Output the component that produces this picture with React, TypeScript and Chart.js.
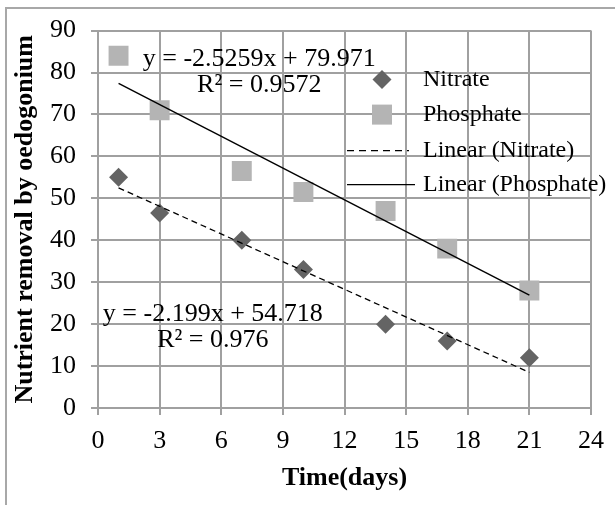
import React, { useEffect, useRef } from "react";
import { Chart, registerables } from "chart.js";

Chart.register(...registerables);

const days = [1, 3, 7, 10, 14, 17, 21];
const nitrate = [55, 46.5, 40, 33, 20, 16, 12];
const phosphate = [84, 71, 56.5, 51.5, 47, 38, 28];

const trendX = [1, 21];
const nitrateTrend = [52.5, 8.5];
const phosphateTrend = [77.4, 26.9];

const xTicksMax = 24;
const xStep = 3;
const yTicksMax = 90;
const yStep = 10;

const legendLabels = ["Nitrate", "Phosphate", "Linear (Nitrate)", "Linear (Phosphate)"];

// equation labels (centered) anchored in data units [x, y]
const eqLabels = [
  { text: "y = -2.5259x + 79.971", x: 7.85, y: 83.2 },
  { text: "R² = 0.9572", x: 7.85, y: 76.9 },
  { text: "y = -2.199x + 54.718", x: 5.59, y: 22.3 },
  { text: "R² = 0.976", x: 5.59, y: 16.2 },
];

const FONT = "'Liberation Serif', 'Times New Roman', serif";
const NITRATE_COLOR = "#646464";
const PHOSPHATE_COLOR = "#b4b4b4";
const GRID = "#a0a0a0";

const decorPlugin = {
  id: "decor",
  beforeDraw(chart: any) {
    const ctx = chart.ctx;
    ctx.save();
    ctx.strokeStyle = "#a8a8a8";
    ctx.lineWidth = 2;
    ctx.beginPath();
    ctx.moveTo(6, chart.height);
    ctx.lineTo(6, 8);
    ctx.lineTo(chart.width, 8);
    ctx.stroke();
    ctx.restore();
  },
  afterDraw(chart: any) {
    const ctx = chart.ctx;
    const xs = chart.scales.x;
    const ys = chart.scales.y;
    ctx.save();
    ctx.fillStyle = "#000";
    ctx.font = `26px ${FONT}`;
    ctx.textBaseline = "middle";
    ctx.textAlign = "center";
    for (const l of eqLabels) {
      ctx.fillText(l.text, xs.getPixelForValue(l.x), ys.getPixelForValue(l.y));
    }
    // legend
    const a = chart.chartArea;
    const mx = a.left + 284;
    const tx = a.left + 325;
    const rows = [a.top + 49, a.top + 84, a.top + 120, a.top + 154];
    ctx.fillStyle = NITRATE_COLOR;
    ctx.beginPath();
    ctx.moveTo(mx - 9.5, rows[0]);
    ctx.lineTo(mx, rows[0] - 9.5);
    ctx.lineTo(mx + 9.5, rows[0]);
    ctx.lineTo(mx, rows[0] + 9.5);
    ctx.closePath();
    ctx.fill();
    ctx.fillStyle = PHOSPHATE_COLOR;
    ctx.fillRect(mx - 10, rows[1] - 10, 20, 20);
    ctx.strokeStyle = "#000";
    ctx.lineWidth = 1.3;
    ctx.setLineDash([7, 5]);
    ctx.beginPath();
    ctx.moveTo(a.left + 249, rows[2]);
    ctx.lineTo(a.left + 311, rows[2]);
    ctx.stroke();
    ctx.setLineDash([]);
    ctx.beginPath();
    ctx.moveTo(a.left + 249, rows[3]);
    ctx.lineTo(a.left + 317, rows[3]);
    ctx.stroke();
    ctx.fillStyle = "#000";
    ctx.textAlign = "left";
    ctx.font = `24px ${FONT}`;
    legendLabels.forEach((t, i) => ctx.fillText(t, tx, rows[i]));
    ctx.restore();
  },
};

export default function App() {
  const ref = useRef<HTMLCanvasElement | null>(null);
  useEffect(() => {
    if (!ref.current) return;
    const chart = new Chart(ref.current, {
      type: "scatter",
      data: {
        datasets: [
          {
            label: "Linear (Phosphate)",
            type: "line",
            data: trendX.map((x, i) => ({ x, y: phosphateTrend[i] })),
            borderColor: "#000",
            borderWidth: 1.4,
            pointRadius: 0,
            fill: false,
          },
          {
            label: "Linear (Nitrate)",
            type: "line",
            data: trendX.map((x, i) => ({ x, y: nitrateTrend[i] })),
            borderColor: "#000",
            borderWidth: 1.3,
            borderDash: [6, 4],
            pointRadius: 0,
            fill: false,
          },
          {
            label: "Nitrate",
            data: days.map((x, i) => ({ x, y: nitrate[i] })),
            pointStyle: "rectRot",
            pointRadius: 9.5,
            backgroundColor: NITRATE_COLOR,
            borderColor: NITRATE_COLOR,
            borderWidth: 0,
          },
          {
            label: "Phosphate",
            data: days.map((x, i) => ({ x, y: phosphate[i] })),
            pointStyle: "rect",
            pointRadius: 14.1,
            backgroundColor: PHOSPHATE_COLOR,
            borderColor: PHOSPHATE_COLOR,
            borderWidth: 0,
          },
        ],
      },
      options: {
        animation: false,
        responsive: false,
        devicePixelRatio: 1,
        layout: { padding: { left: 0, right: 23, top: 24, bottom: 0 } },
        plugins: { legend: { display: false }, tooltip: { enabled: false } },
        scales: {
          x: {
            type: "linear",
            min: 0,
            max: xTicksMax,
            ticks: { stepSize: xStep, color: "#000", font: { family: FONT, size: 26 }, padding: 11 },
            grid: { color: GRID, lineWidth: 2, tickLength: 7 },
            border: { color: GRID, width: 2 },
            title: {
              display: true,
              text: "Time(days)",
              color: "#000",
              font: { family: FONT, size: 26, weight: "bold" },
              padding: { top: 0, bottom: 11 },
            },
            afterFit(scale: any) {
              scale.height = 97;
            },
          },
          y: {
            min: 0,
            max: yTicksMax,
            ticks: { stepSize: yStep, color: "#000", font: { family: FONT, size: 26 }, padding: 15 },
            grid: { color: GRID, lineWidth: 2, tickLength: 7 },
            border: { color: GRID, width: 2 },
            title: {
              display: true,
              text: "Nutrient removal by oedogonium",
              color: "#000",
              font: { family: FONT, size: 26, weight: "bold" },
              padding: { top: 10, bottom: 0 },
            },
            afterFit(scale: any) {
              scale.width = 98;
            },
          },
        },
      },
      plugins: [decorPlugin],
    });
    return () => chart.destroy();
  }, []);
  return (
    <div style={{ position: "fixed", left: 0, top: 0, width: 615, height: 505, background: "#fff" }}>
      <canvas ref={ref} width={615} height={505} style={{ display: "block" }} />
    </div>
  );
}
